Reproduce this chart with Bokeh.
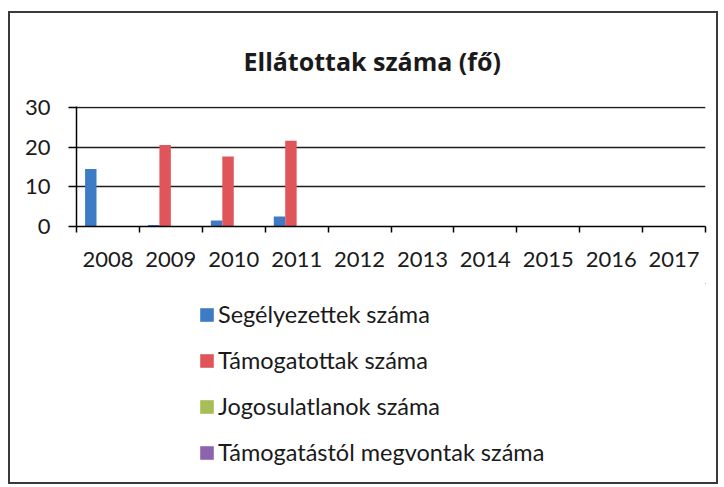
from bokeh.plotting import figure
from bokeh.models import (ColumnDataSource, FixedTicker, Legend, LegendItem, Range1d)
from bokeh.layouts import column
from bokeh.embed import file_html
from bokeh.resources import INLINE
import numpy as np

years = ["2008", "2009", "2010", "2011", "2012", "2013", "2014", "2015", "2016", "2017"]
series_names = ["Segélyezettek száma", "Támogatottak száma",
                "Jogosulatlanok száma", "Támogatástól megvontak száma"]
segelyezettek = [14.5, 0.4, 1.5, 2.5, None, None, None, None, None, None]
tamogatottak = [0, 20.5, 17.6, 21.6, None, None, None, None, None, None]
jogosulatlanok = [0, 0, 0, 0, None, None, None, None, None, None]
megvontak = [0, 0, 0, 0, None, None, None, None, None, None]
colors = ["#3d7cc4", "#e0555a", "#a6be55", "#8c64ad"]
title_text = "Ellátottak száma (fő)"
y_ticks = [0, 10, 20, 30]

FONT = "Lato"
W = 706
H_MAIN = 270
H_LEG = 199

p = figure(width=W, height=H_MAIN, output_backend="svg", toolbar_location=None,
           x_range=Range1d(0, len(years)), y_range=Range1d(0, 30.2),
           min_border_left=66, min_border_right=11, min_border_top=91,
           min_border_bottom=H_MAIN - 213)
p.outline_line_color = None
p.background_fill_color = "white"
p.border_fill_color = "white"

p.title.text = title_text
p.title.text_font = "Open Sans"
p.title.text_font_style = "bold"
p.title.text_font_size = "25px"
p.title.text_color = "#1a1a1a"
p.title.align = "left"
p.title.offset = 167
p.title.standoff = 57

centers = np.arange(len(years)) + 0.5
bw = 1.0 / 5.5
offsets = [-1.5 * bw, -0.5 * bw, 0.5 * bw, 1.5 * bw]
all_series = [segelyezettek, tamogatottak, jogosulatlanok, megvontak]
sources = []
for name, vals, off, col in zip(series_names, all_series, offsets, colors):
    top = [np.nan if v is None else v for v in vals]
    src = ColumnDataSource(dict(x=centers + off, top=top))
    sources.append(src)
    p.vbar(x="x", top="top", bottom=0, width=bw, source=src,
           fill_color=col, line_color=None)

# axes
p.xaxis.ticker = FixedTicker(ticks=list(centers), minor_ticks=list(range(len(years) + 1)))
p.xaxis.major_label_overrides = {float(c): y for c, y in zip(centers, years)}
p.xaxis.major_tick_out = 0
p.xaxis.major_tick_in = 0
p.xaxis.minor_tick_out = 6
p.xaxis.minor_tick_in = 0
p.xaxis.minor_tick_line_color = "black"
p.xaxis.minor_tick_line_width = 1.5
p.xaxis.axis_line_color = "black"
p.xaxis.axis_line_width = 1.5
p.xaxis.major_label_text_font = FONT
p.xaxis.major_label_text_font_size = "22px"
p.xaxis.major_label_text_color = "#1a1a1a"
p.xaxis.major_label_standoff = 19

p.yaxis.ticker = FixedTicker(ticks=y_ticks)
p.yaxis.minor_tick_line_color = None
p.yaxis.major_tick_out = 8
p.yaxis.major_tick_in = 0
p.yaxis.major_tick_line_color = "black"
p.yaxis.major_tick_line_width = 1.5
p.yaxis.axis_line_color = "black"
p.yaxis.axis_line_width = 1.5
p.yaxis.major_label_text_font = FONT
p.yaxis.major_label_text_font_size = "22px"
p.yaxis.major_label_text_color = "#1a1a1a"
p.yaxis.major_label_standoff = 18

p.xgrid.grid_line_color = None
p.ygrid.ticker = FixedTicker(ticks=[10, 20, 30])
p.ygrid.grid_line_color = "#1e1e1e"
p.ygrid.grid_line_width = 1.6

# legend panel (separate figure below the chart); its ranges keep the bars out of view
q = figure(width=W, height=H_LEG, output_backend="svg", toolbar_location=None,
           x_axis_type=None, y_axis_type=None, min_border=0,
           x_range=Range1d(-20, -19), y_range=Range1d(-20, -19))
q.outline_line_color = None
q.grid.grid_line_color = None
q.background_fill_color = "white"
q.border_fill_color = "white"
items = []
for name, src, col in zip(series_names, sources, colors):
    r = q.vbar(x="x", top="top", bottom=0, width=bw, source=src,
               fill_color=col, line_color=None)
    items.append(LegendItem(label=name, renderers=[r]))
legend = Legend(items=items, location=(122, 16), orientation="vertical",
                glyph_width=17, glyph_height=17, label_standoff=3,
                label_height=20, spacing=18, padding=0, margin=0,
                border_line_color=None, background_fill_alpha=0,
                label_text_font=FONT, label_text_font_size="23.5px",
                label_text_color="#1a1a1a")
q.add_layout(legend, "center")

layout = column(p, q, spacing=0)
layout.styles = {"border": "2px solid #3a3a3a", "margin-left": "8px", "margin-top": "11px"}

open("out.html", "w").write(file_html(layout, INLINE))
